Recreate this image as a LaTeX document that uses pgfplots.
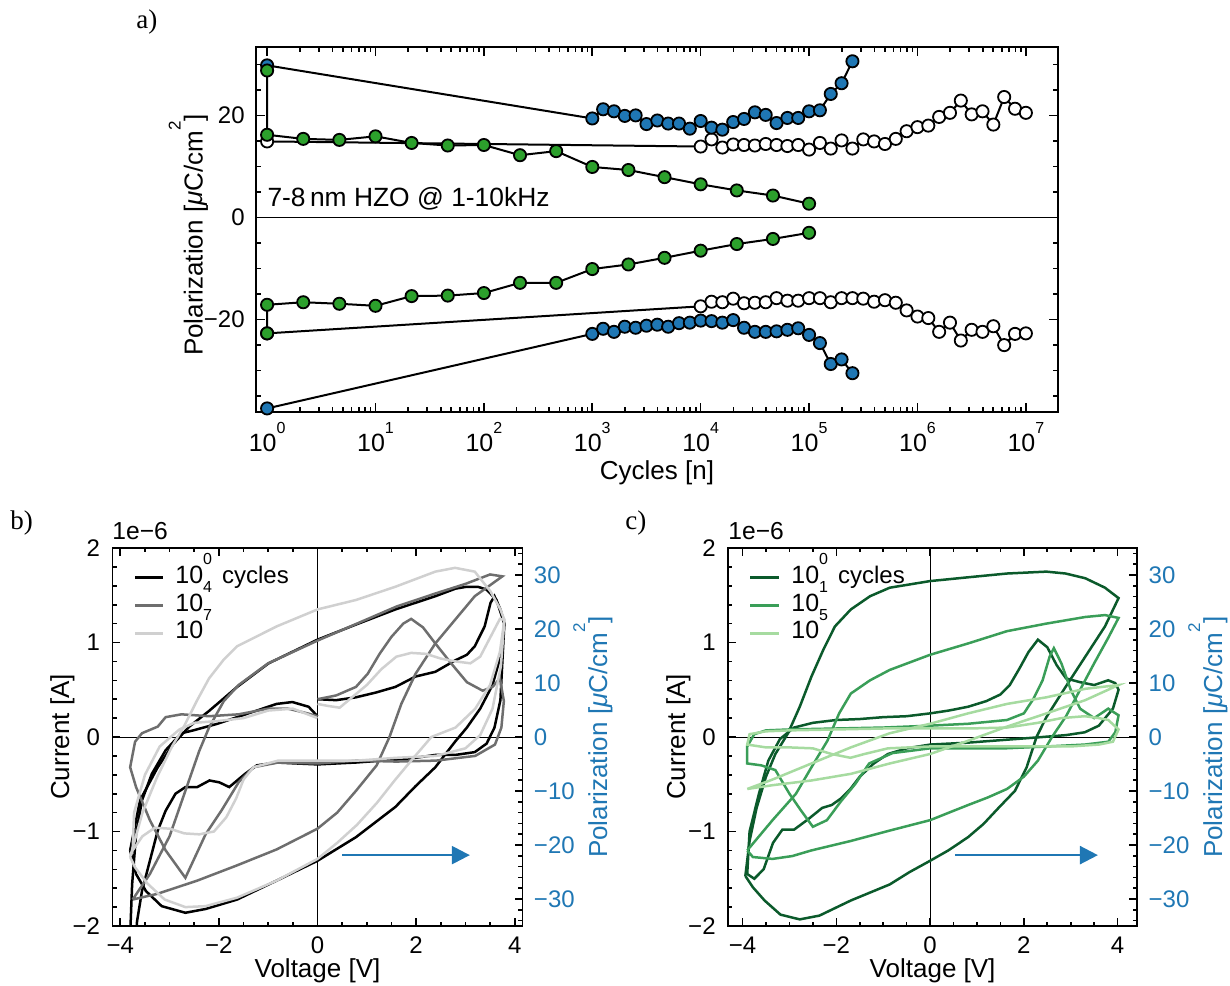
\documentclass[border=0pt]{standalone}
\usepackage{fontspec}
\setmainfont{Liberation Sans}
\newfontfamily\serifl{Liberation Serif}
\usepackage{pgfplots}
\pgfplotsset{compat=1.18}
\usetikzlibrary{arrows.meta}

\definecolor{tabblue}{HTML}{1F77B4}
\definecolor{tabgreen}{HTML}{2CA02C}
\definecolor{gmid}{HTML}{6E6E6E}
\definecolor{glight}{HTML}{D0D0D0}
\definecolor{gdark}{HTML}{0B5A2B}
\definecolor{gm}{HTML}{3A9E58}
\definecolor{gl}{HTML}{A6DBA0}

\newcommand{\tenpow}[1]{{\fontsize{12.5}{15}\selectfont 10}\raisebox{9.3pt}{\fontsize{8}{9}\selectfont #1}}
\newcommand{\polunit}{Polarization [\textit{μ}C/cm\raisebox{11pt}{\fontsize{8.5}{9}\selectfont 2}]}
\newcommand{\lf}{\fontsize{13}{15}\selectfont}
\newcommand{\tf}{\fontsize{12}{14}\selectfont}

\pgfplotsset{
  base/.style={scale only axis, tick align=inside,
    axis line style={line width=0.9pt},
    tick style={line width=0.8pt, black},
    major tick length=4.5pt, minor tick length=2.5pt,
    ticklabel style={font=\tf}},
  pa/.style={black, line width=1pt, mark=*, mark size=3.05pt},
  loop/.style={line width=1.25pt},
}

\begin{document}
\begin{tikzpicture}
\useasboundingbox (0,0) rectangle (615pt,492.5pt);

% ---------------- panel a ----------------
\begin{axis}[base, at={(128pt,286.5pt)}, anchor=south west,
  width=401pt, height=182.5pt,
  xmode=log, xmin=0.79, xmax=1.98e7, ymin=-38.1, ymax=33.4,
  xtick={1,10,100,1000,1e4,1e5,1e6,1e7},
  xticklabels={\tenpow{0},\tenpow{1},\tenpow{2},\tenpow{3},\tenpow{4},\tenpow{5},\tenpow{6},\tenpow{7}},
  minor xtick={2,3,4,5,6,7,8,9,20,30,40,50,60,70,80,90,200,300,400,500,600,700,800,900,
    2e3,3e3,4e3,5e3,6e3,7e3,8e3,9e3,2e4,3e4,4e4,5e4,6e4,7e4,8e4,9e4,2e5,3e5,4e5,5e5,6e5,7e5,8e5,9e5,
    2e6,3e6,4e6,5e6,6e6,7e6,8e6,9e6},
  ytick={-20,0,20}, yticklabels={−20,0,20},
  minor ytick={-35,-30,-25,-15,-10,-5,5,10,15,25,30},
  xticklabel style={anchor=base, yshift=-20pt, inner sep=0pt},
  yticklabel style={anchor=east, xshift=-5.5pt, inner sep=0pt},
  clip=false]
\addplot[black, line width=0.5pt, forget plot] coordinates {(0.79,0) (1.98e7,0)};
% white
\addplot[pa, mark options={fill=white, draw=black, line width=0.9pt}] coordinates {
(1,14.9) (1e4,13.9) (1.259e4,15.3) (1.585e4,13.7) (1.995e4,14.3) (2.512e4,14.2) (3.162e4,14.1) (3.981e4,14.4) (5.012e4,14.2) (6.310e4,14.0) (7.943e4,14.2) (1e5,13.3) (1.259e5,14.6) (1.585e5,13.5) (1.995e5,15.1) (2.512e5,13.5) (3.162e5,15.3) (3.981e5,14.9) (5.012e5,14.4) (6.310e5,15.4) (7.943e5,16.9) (1e6,17.7) (1.259e6,18.0) (1.585e6,19.7) (1.995e6,20.5) (2.512e6,22.9) (3.162e6,20.2) (3.981e6,20.8) (5.012e6,18.2) (6.310e6,23.6) (7.943e6,21.3) (1e7,20.5)};
\addplot[pa, mark options={fill=white, draw=black, line width=0.9pt}] coordinates {
(1,-22.7) (1e4,-17.4) (1.259e4,-16.5) (1.585e4,-16.6) (1.995e4,-15.9) (2.512e4,-16.8) (3.162e4,-16.7) (3.981e4,-16.6) (5.012e4,-15.8) (6.310e4,-16.3) (7.943e4,-16.3) (1e5,-15.8) (1.259e5,-15.8) (1.585e5,-16.6) (1.995e5,-15.8) (2.512e5,-15.8) (3.162e5,-15.9) (3.981e5,-16.5) (5.012e5,-16.2) (6.310e5,-16.7) (7.943e5,-18.2) (1e6,-19.4) (1.259e6,-19.7) (1.585e6,-22.4) (1.995e6,-20.6) (2.512e6,-24.1) (3.162e6,-22.0) (3.981e6,-22.4) (5.012e6,-21.3) (6.310e6,-25.0) (7.943e6,-22.8) (1e7,-22.7)};
% blue
\addplot[pa, mark options={fill=tabblue, draw=black, line width=0.9pt}] coordinates {
(1,29.8) (1e3,19.4) (1.259e3,21.2) (1.585e3,20.8) (1.995e3,19.9) (2.512e3,20.0) (3.162e3,18.3) (3.981e3,19.0) (5.012e3,18.4) (6.310e3,18.4) (7.943e3,17.4) (1e4,18.9) (1.259e4,17.6) (1.585e4,17.2) (1.995e4,18.7) (2.512e4,19.3) (3.162e4,20.6) (3.981e4,20.1) (5.012e4,18.5) (6.310e4,19.5) (7.943e4,19.5) (1e5,20.8) (1.259e5,21.0) (1.585e5,24.2) (1.995e5,26.3) (2.512e5,30.6)};
\addplot[pa, mark options={fill=tabblue, draw=black, line width=0.9pt}] coordinates {
(1,-37.4) (1e3,-22.8) (1.259e3,-21.8) (1.585e3,-22.4) (1.995e3,-21.4) (2.512e3,-21.6) (3.162e3,-21.2) (3.981e3,-21.0) (5.012e3,-21.4) (6.310e3,-20.7) (7.943e3,-20.6) (1e4,-20.2) (1.259e4,-20.3) (1.585e4,-20.6) (1.995e4,-20.1) (2.512e4,-21.6) (3.162e4,-22.4) (3.981e4,-22.4) (5.012e4,-22.3) (6.310e4,-22.0) (7.943e4,-21.7) (1e5,-23.0) (1.259e5,-24.6) (1.585e5,-28.7) (1.995e5,-27.8) (2.512e5,-30.5)};
% green
\addplot[pa, mark options={fill=tabgreen, draw=black, line width=0.9pt}] coordinates {
(1,28.8) (1,16.2) (2.154,15.4) (4.642,15.2) (10,15.9) (21.54,14.6) (46.42,14.1) (100,14.2) (215.4,12.2) (464.2,13.0) (1000,9.9) (2154,9.3) (4642,7.9) (1e4,6.5) (2.154e4,5.3) (4.642e4,4.3) (1e5,2.7)};
\addplot[pa, mark options={fill=tabgreen, draw=black, line width=0.9pt}] coordinates {
(1,-22.7) (1,-17.1) (2.154,-16.6) (4.642,-16.9) (10,-17.3) (21.54,-15.4) (46.42,-15.3) (100,-14.8) (215.4,-12.8) (464.2,-12.8) (1000,-10.1) (2154,-9.2) (4642,-7.9) (1e4,-6.5) (2.154e4,-5.2) (4.642e4,-4.2) (1e5,-3.0)};
\node[anchor=base west, inner sep=0pt, font=\fontsize{13.2}{15}\selectfont] at (axis cs:1,2.1) {7-8\,nm HZO @ 1-10kHz};
\end{axis}

% ---------------- panel b ----------------
\begin{axis}[base, at={(56.2pt,29.5pt)}, anchor=south west,
  width=205.1pt, height=189pt,
  xmin=-4.16, xmax=4.16, ymin=-2, ymax=2,
  xtick={-4,-2,0,2,4}, xticklabels={−4,−2,0,2,4}, minor x tick num=3,
  ytick={-2,-1,0,1,2}, yticklabels={−2,−1,0,1,2}, minor y tick num=4,
  ytick pos=left,
  major tick length=4pt, minor tick length=2.2pt,
  xticklabel style={anchor=base, yshift=-13.8pt, inner sep=0pt},
  yticklabel style={anchor=east, xshift=-6pt, inner sep=0pt}]
\addplot[black, line width=0.5pt] coordinates {(-4.16,0) (4.16,0)};
\addplot[black, line width=0.5pt] coordinates {(0,-2) (0,2)};
% 10^0 black
\addplot[loop, black] coordinates {
(-3.80,-1.20) (-3.60,-0.67) (-3.24,-0.32) (-2.92,-0.07) (-2.60,0.11) (-2.19,0.28) (-1.63,0.53) (-0.99,0.78) (0,1.03) (0.78,1.19) (1.58,1.35) (2.39,1.49) (2.8,1.57) (3.03,1.59) (3.25,1.59) (3.43,1.56) (3.63,1.45) (3.79,1.20) (3.71,0.85) (3.55,0.55) (3.3,0.3) (3.03,0.1) (2.79,-0.05) (2.39,-0.32) (1.99,-0.52) (1.58,-0.74) (0.78,-1.06) (0,-1.31) (-0.83,-1.52) (-1.63,-1.72) (-2.27,-1.82) (-2.68,-1.86) (-3.16,-1.79) (-3.48,-1.63) (-3.68,-1.45) (-3.80,-1.20)};
\addplot[loop, black] coordinates {
(0,0.40) (0.38,0.39) (0.78,0.42) (1.18,0.47) (1.58,0.53) (1.99,0.64) (2.39,0.69) (2.79,0.81) (3.03,0.87) (3.19,0.96) (3.39,1.17) (3.51,1.42) (3.59,1.49) (3.71,1.35) (3.79,1.20) (3.75,0.8) (3.71,0.39) (3.59,0.1) (3.43,-0.07) (3.19,-0.16) (2.79,-0.19) (2.39,-0.19) (1.99,-0.22) (1.58,-0.24) (0.78,-0.27) (0,-0.29) (-0.43,-0.28) (-0.83,-0.27) (-1.23,-0.30) (-1.47,-0.39) (-1.63,-0.46) (-1.79,-0.53) (-1.99,-0.48) (-2.19,-0.46) (-2.44,-0.53) (-2.68,-0.53) (-2.88,-0.60) (-3.08,-0.78) (-3.24,-0.99) (-3.40,-1.31) (-3.56,-1.63) (-3.66,-1.95) (-3.68,-2.1) (-3.80,-2.1) (-3.76,-1.56) (-3.68,-1.03) (-3.56,-0.67) (-3.36,-0.39) (-3.08,-0.14) (-2.76,0.04) (-2.52,0.07) (-2.03,0.14) (-1.63,0.21) (-1.23,0.28) (-0.83,0.35) (-0.51,0.37) (-0.18,0.32) (0,0.22)};
% 10^4 gray
\addplot[loop, gmid] coordinates {
(-3.75,-1.72) (-3.4,-1.45) (-3.0,-1.05) (-2.7,-0.6) (-2.4,-0.15) (-2.2,0.1) (-1.9,0.38) (-1.6,0.55) (-1.0,0.78) (0,1.02) (0.8,1.2) (1.6,1.38) (2.4,1.52) (3.0,1.62) (3.5,1.72) (3.75,1.70) (3.19,1.49) (2.79,1.24) (2.39,0.99) (1.99,0.67) (1.7,0.35) (1.46,0.0) (1.2,-0.3) (0.78,-0.57) (0.4,-0.8) (0,-0.97) (-0.83,-1.19) (-1.64,-1.36) (-2.44,-1.52) (-3.25,-1.66) (-3.75,-1.72)};
\addplot[loop, gmid] coordinates {
(0,0.40) (0.38,0.44) (0.78,0.53) (1.02,0.67) (1.26,0.88) (1.5,1.06) (1.74,1.2) (1.9,1.25) (2.14,1.16) (2.39,0.99) (2.71,0.78) (3.03,0.58) (3.35,0.49) (3.55,0.53) (3.7,0.62) (3.78,0.38) (3.73,0.1) (3.6,-0.08) (3.2,-0.2) (2.4,-0.25) (1.6,-0.26) (0.8,-0.25) (0,-0.28) (-0.8,-0.27) (-1.3,-0.32) (-1.6,-0.48) (-1.95,-0.78) (-2.27,-1.03) (-2.68,-1.49) (-3.08,-1.2) (-3.4,-0.88) (-3.68,-0.53) (-3.8,-0.32) (-3.7,-0.05) (-3.56,0.04) (-3.24,0.11) (-3.08,0.21) (-2.76,0.24) (-2.2,0.22) (-1.6,0.24) (-1.0,0.3) (-0.6,0.3) (-0.2,0.25) (0,0.22)};
% 10^7 light gray
\addplot[loop, glight] coordinates {
(-3.8,-1.27) (-3.55,-0.8) (-3.25,-0.42) (-2.95,-0.1) (-2.7,0.12) (-2.45,0.38) (-2.2,0.62) (-1.9,0.82) (-1.63,0.96) (-0.83,1.17) (0,1.35) (0.78,1.45) (1.58,1.59) (2.39,1.75) (2.79,1.79) (3.19,1.75) (3.51,1.54) (3.71,1.35) (3.79,1.24) (3.7,0.9) (3.5,0.55) (3.2,0.3) (2.8,0.1) (2.31,0.0) (1.9,-0.25) (1.58,-0.45) (1.2,-0.7) (0.8,-0.93) (0.4,-1.12) (0,-1.29) (-0.83,-1.52) (-1.63,-1.7) (-2.27,-1.79) (-2.68,-1.8) (-3.1,-1.72) (-3.45,-1.55) (-3.7,-1.38) (-3.8,-1.27)};
\addplot[loop, glight] coordinates {
(0,0.35) (0.2,0.33) (0.45,0.31) (0.7,0.42) (1.0,0.55) (1.3,0.72) (1.6,0.85) (1.9,0.89) (2.2,0.88) (2.5,0.83) (2.8,0.80) (3.1,0.78) (3.3,0.85) (3.5,1.05) (3.7,1.25) (3.79,1.24) (3.72,0.75) (3.55,0.3) (3.3,0.02) (3.0,-0.12) (2.4,-0.2) (1.6,-0.22) (0.8,-0.25) (0,-0.25) (-0.8,-0.25) (-1.3,-0.32) (-1.5,-0.45) (-1.65,-0.65) (-1.85,-0.85) (-2.1,-1.0) (-2.4,-1.03) (-2.7,-1.02) (-3.0,-0.97) (-3.3,-0.96) (-3.55,-1.05) (-3.75,-1.2) (-3.72,-0.8) (-3.5,-0.4) (-3.2,-0.1) (-2.8,0.08) (-2.5,0.15) (-2.0,0.17) (-1.5,0.2) (-1.0,0.28) (-0.5,0.3) (0,0.2)};
\draw[tabblue, line width=1.2pt, -{Triangle[length=9pt,width=9pt]}] (axis cs:0.5,-1.25) -- (axis cs:3.09,-1.25);
\end{axis}
\begin{axis}[base, at={(56.2pt,29.5pt)}, anchor=south west,
  width=205.1pt, height=189pt,
  xmin=-4.16, xmax=4.16, ymin=-35, ymax=35,
  axis x line=none, axis y line*=right,
  ytick={-30,-20,-10,0,10,20,30}, yticklabels={−30,−20,−10,0,10,20,30},
  minor ytick={-34,-32,...,34},
  major tick length=4pt, minor tick length=2.2pt,
  yticklabel style={anchor=west, xshift=5.5pt, inner sep=0pt, text=tabblue}]
\end{axis}

% ---------------- panel c ----------------
\begin{axis}[base, at={(364pt,29.5pt)}, anchor=south west,
  width=204.65pt, height=189pt,
  xmin=-4.31, xmax=4.42, ymin=-2, ymax=2,
  xtick={-4,-2,0,2,4}, xticklabels={−4,−2,0,2,4}, minor x tick num=3,
  ytick={-2,-1,0,1,2}, yticklabels={−2,−1,0,1,2}, minor y tick num=4,
  ytick pos=left,
  major tick length=4pt, minor tick length=2.2pt,
  xticklabel style={anchor=base, yshift=-13.8pt, inner sep=0pt},
  yticklabel style={anchor=east, xshift=-6pt, inner sep=0pt}]
\addplot[black, line width=0.5pt] coordinates {(-4.31,0) (4.42,0)};
\addplot[black, line width=0.5pt] coordinates {(0,-2) (0,2)};
% 10^0 dark green
\addplot[loop, gdark] coordinates {
(-3.94,-1.47) (-3.85,-1.1) (-3.7,-0.75) (-3.5,-0.42) (-3.3,-0.18) (-3.03,0.04) (-2.78,0.32) (-2.53,0.64) (-2.28,0.92) (-2.03,1.17) (-1.69,1.35) (-1.28,1.49) (-0.86,1.58) (0,1.65) (0.81,1.69) (1.64,1.73) (2.48,1.75) (2.89,1.73) (3.31,1.68) (3.73,1.58) (4.02,1.47) (3.73,1.17) (3.31,0.85) (2.89,0.53) (2.48,0.21) (2.27,0.0) (2.06,-0.32) (1.81,-0.57) (1.48,-0.74) (1.14,-0.92) (0.81,-1.06) (0.39,-1.2) (0,-1.31) (-0.44,-1.43) (-0.86,-1.56) (-1.69,-1.73) (-2.36,-1.89) (-2.78,-1.93) (-3.19,-1.88) (-3.53,-1.73) (-3.78,-1.59) (-3.94,-1.47)};
\addplot[loop, gdark] coordinates {
(0,0.25) (0.4,0.28) (0.81,0.32) (1.2,0.38) (1.5,0.45) (1.7,0.55) (1.9,0.72) (2.1,0.9) (2.3,1.03) (2.5,0.95) (2.7,0.76) (2.9,0.62) (3.2,0.58) (3.5,0.55) (3.8,0.6) (3.95,0.57) (4.02,0.5) (3.9,0.3) (3.6,0.12) (3.3,0.05) (2.9,0.02) (2.4,0.0) (1.6,-0.03) (0.8,-0.06) (0,-0.08) (-0.5,-0.12) (-0.9,-0.18) (-1.2,-0.28) (-1.5,-0.42) (-1.7,-0.55) (-1.9,-0.65) (-2.1,-0.72) (-2.3,-0.75) (-2.6,-0.87) (-2.9,-0.98) (-3.15,-0.98) (-3.35,-1.12) (-3.55,-1.4) (-3.75,-1.5) (-3.9,-1.45) (-3.85,-1.0) (-3.65,-0.6) (-3.45,-0.25) (-3.2,-0.02) (-2.9,0.1) (-2.5,0.15) (-2.0,0.18) (-1.5,0.19) (-1.0,0.21) (-0.5,0.22) (0,0.25)};
% 10^1 medium green
\addplot[loop, gm] coordinates {
(-3.9,-1.2) (-3.36,-0.88) (-2.86,-0.6) (-2.53,-0.32) (-2.19,-0.04) (-1.94,0.25) (-1.69,0.46) (-1.28,0.6) (-0.86,0.71) (0,0.87) (0.81,0.99) (1.64,1.12) (2.48,1.2) (3.31,1.27) (3.73,1.29) (4.02,1.26) (3.8,1.05) (3.5,0.78) (3.2,0.5) (2.9,0.22) (2.6,0.0) (2.3,-0.25) (2.0,-0.42) (1.64,-0.55) (1.23,-0.64) (0.81,-0.72) (0,-0.88) (-0.86,-0.99) (-1.69,-1.1) (-2.53,-1.2) (-2.94,-1.26) (-3.36,-1.29) (-3.78,-1.27) (-3.9,-1.2)};
\addplot[loop, gm] coordinates {
(0,0.12) (0.81,0.14) (1.64,0.18) (2.0,0.25) (2.2,0.4) (2.4,0.6) (2.55,0.85) (2.64,0.94) (2.8,0.78) (3.0,0.5) (3.2,0.3) (3.5,0.2) (3.8,0.3) (4.02,0.23) (3.95,0.05) (3.8,-0.05) (3.3,-0.08) (2.5,-0.1) (1.6,-0.12) (0.8,-0.12) (0,-0.12) (-0.8,-0.17) (-1.3,-0.28) (-1.6,-0.5) (-1.9,-0.68) (-2.2,-0.88) (-2.5,-0.95) (-2.75,-0.78) (-3.0,-0.6) (-3.3,-0.35) (-3.6,-0.3) (-3.9,-0.28) (-3.9,-0.1) (-3.75,0.03) (-3.5,0.07) (-3.0,0.08) (-2.0,0.09) (-1.0,0.1) (0,0.12)};
% 10^5 light green
\addplot[loop, gl] coordinates {
(-3.9,-0.55) (-3.36,-0.45) (-2.53,-0.28) (-1.69,-0.11) (-0.86,0.04) (0,0.14) (0.81,0.25) (1.64,0.35) (2.48,0.42) (3.31,0.51) (4.02,0.55) (3.31,0.39) (2.48,0.25) (1.64,0.11) (0.81,-0.04) (0,-0.18) (-0.86,-0.28) (-1.69,-0.39) (-2.53,-0.46) (-3.36,-0.51) (-3.9,-0.55)};
\addplot[loop, gl] coordinates {
(0,0.09) (0.81,0.09) (1.64,0.1) (2.3,0.15) (2.8,0.2) (3.3,0.22) (3.6,0.2) (3.8,0.18) (4.02,0.08) (3.9,-0.05) (3.6,-0.08) (3.0,-0.1) (2.0,-0.1) (1.0,-0.1) (0,-0.1) (-0.9,-0.12) (-1.4,-0.18) (-1.7,-0.22) (-2.1,-0.18) (-2.5,-0.12) (-3.0,-0.11) (-3.5,-0.11) (-3.9,-0.08) (-3.85,0.03) (-3.5,0.06) (-3.0,0.07) (-2.0,0.08) (-1.0,0.09) (0,0.09)};
\draw[tabblue, line width=1.2pt, -{Triangle[length=9pt,width=9pt]}] (axis cs:0.53,-1.25) -- (axis cs:3.58,-1.25);
\end{axis}
\begin{axis}[base, at={(364pt,29.5pt)}, anchor=south west,
  width=204.65pt, height=189pt,
  xmin=-4.31, xmax=4.42, ymin=-35, ymax=35,
  axis x line=none, axis y line*=right,
  ytick={-30,-20,-10,0,10,20,30}, yticklabels={−30,−20,−10,0,10,20,30},
  minor ytick={-34,-32,...,34},
  major tick length=4pt, minor tick length=2.2pt,
  yticklabel style={anchor=west, xshift=5.5pt, inner sep=0pt, text=tabblue}]
\end{axis}

% ---------------- labels ----------------
\node[anchor=base west, inner sep=0pt, font=\serifl\fontsize{13.5}{15}\selectfont] at (68pt,478pt) {a)};
\node[anchor=base west, inner sep=0pt, font=\serifl\fontsize{13.5}{15}\selectfont] at (5pt,227.5pt) {b)};
\node[anchor=base west, inner sep=0pt, font=\serifl\fontsize{13.5}{15}\selectfont] at (312.5pt,227.5pt) {c)};

\node[anchor=base, inner sep=0pt, font=\lf, rotate=90] at (101.35pt,375pt) {\polunit};
\node[anchor=base, inner sep=0pt, font=\lf] at (328.5pt,252.5pt) {Cycles [n]};

\node[anchor=base west, inner sep=0pt, font=\fontsize{12.3}{14}\selectfont] at (56pt,222.5pt) {1e−6};
\node[anchor=base west, inner sep=0pt, font=\fontsize{12.3}{14}\selectfont] at (364pt,222.5pt) {1e−6};
\node[anchor=base, inner sep=0pt, font=\lf, rotate=90] at (34.5pt,124pt) {Current [A]};
\node[anchor=base, inner sep=0pt, font=\lf, rotate=90] at (342.5pt,124pt) {Current [A]};
\node[anchor=base, inner sep=0pt, font=\lf] at (158.75pt,4pt) {Voltage [V]};
\node[anchor=base, inner sep=0pt, font=\lf] at (466.3pt,4pt) {Voltage [V]};
\node[anchor=base, inner sep=0pt, font=\lf, rotate=90, text=tabblue] at (303.5pt,124pt) {\polunit};
\node[anchor=base, inner sep=0pt, font=\lf, rotate=90, text=tabblue] at (611pt,124pt) {\polunit};

% legends
\draw[black, line width=1.5pt] (67.5pt,203.7pt) -- (81.5pt,203.7pt);
\draw[gmid, line width=1.5pt] (67.5pt,189.5pt) -- (81.5pt,189.5pt);
\draw[glight, line width=1.5pt] (67.5pt,175.9pt) -- (81.5pt,175.9pt);
\node[anchor=base west, inner sep=0pt] at (87.5pt,200.9pt) {\tenpow{0}\hspace{5pt}{\tf cycles}};
\node[anchor=base west, inner sep=0pt] at (87.5pt,186.7pt) {\tenpow{4}};
\node[anchor=base west, inner sep=0pt] at (87.5pt,173pt) {\tenpow{7}};

\draw[gdark, line width=1.5pt] (375pt,203.7pt) -- (389.5pt,203.7pt);
\draw[gm, line width=1.5pt] (375pt,189.5pt) -- (389.5pt,189.5pt);
\draw[gl, line width=1.5pt] (375pt,175.9pt) -- (389.5pt,175.9pt);
\node[anchor=base west, inner sep=0pt] at (395.5pt,200.9pt) {\tenpow{0}\hspace{5pt}{\tf cycles}};
\node[anchor=base west, inner sep=0pt] at (395.5pt,186.7pt) {\tenpow{1}};
\node[anchor=base west, inner sep=0pt] at (395.5pt,173pt) {\tenpow{5}};
\end{tikzpicture}
\end{document}
